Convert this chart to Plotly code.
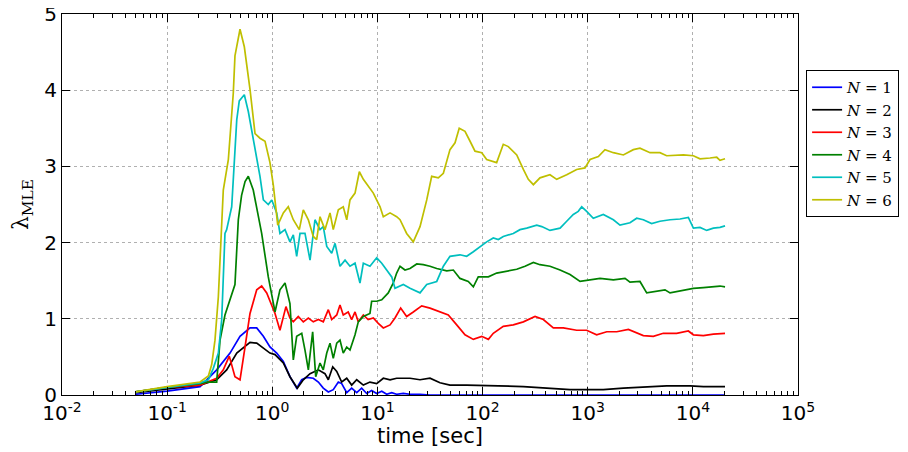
import plotly.graph_objects as go

# ---- data (log10 of time in seconds, lambda_MLE) ----
lt_n1 = [-1.301, -1.001, -0.687, -0.529, -0.402, -0.307, -0.212, -0.148, -0.085, -0.022, 0.042, 0.105,
         0.168, 0.232, 0.280, 0.327, 0.390, 0.438, 0.485, 0.533, 0.580, 0.628, 0.660, 0.708, 0.755,
         0.803, 0.850, 0.898, 0.945, 0.993, 1.041, 1.088, 1.136, 1.183, 1.246, 1.310, 1.405, 1.500,
         2.0, 3.0, 4.306]
y_n1 = [0.01, 0.05, 0.11, 0.33, 0.55, 0.77, 0.88, 0.88, 0.77, 0.63, 0.55, 0.44,
        0.24, 0.09, 0.20, 0.23, 0.22, 0.17, 0.09, 0.04, 0.07, 0.17, 0.15, 0.03, 0.09,
        0.03, 0.09, 0.02, 0.06, 0.02, 0.05, 0.01, 0.03, 0.01, 0.02, 0.01, 0.01, 0.0,
        0.0, 0.0, 0.0]

lt_n2 = [-1.301, -1.001, -0.687, -0.529, -0.434, -0.338, -0.212, -0.148, -0.085, -0.022, 0.026, 0.105,
         0.168, 0.238, 0.295, 0.359, 0.438, 0.501, 0.533, 0.575, 0.613, 0.660, 0.708, 0.755, 0.803,
         0.866, 0.929, 0.993, 1.056, 1.120, 1.183, 1.215, 1.310, 1.405, 1.500, 1.595, 1.690, 1.849,
         2.007, 2.150, 2.388, 2.641, 2.832, 2.990, 3.148, 3.339, 3.593, 3.751, 3.973, 4.100, 4.306]
y_n2 = [0.03, 0.08, 0.13, 0.20, 0.33, 0.55, 0.69, 0.68, 0.61, 0.55, 0.53, 0.42,
        0.24, 0.09, 0.20, 0.28, 0.33, 0.28, 0.20, 0.37, 0.31, 0.17, 0.22, 0.13, 0.20,
        0.13, 0.17, 0.15, 0.22, 0.20, 0.22, 0.22, 0.22, 0.20, 0.22, 0.16, 0.13, 0.13,
        0.12, 0.12, 0.11, 0.09, 0.07, 0.07, 0.07, 0.09, 0.11, 0.12, 0.12, 0.11, 0.11]

lt_n3 = [-1.301, -1.001, -0.687, -0.529, -0.466, -0.409, -0.355, -0.307, -0.259, -0.212, -0.148, -0.101,
         -0.053, -0.005, 0.026, 0.073, 0.130, 0.168, 0.200, 0.247, 0.295, 0.343, 0.390, 0.438, 0.485,
         0.533, 0.565, 0.613, 0.644, 0.675, 0.722, 0.755, 0.787, 0.818, 0.866, 0.912, 0.961, 1.008,
         1.056, 1.120, 1.167, 1.221, 1.278, 1.341, 1.421, 1.500, 1.595, 1.674, 1.754, 1.833, 1.912,
         1.992, 2.055, 2.102, 2.197, 2.292, 2.388, 2.499, 2.578, 2.673, 2.768, 2.895, 2.990, 3.085,
         3.181, 3.276, 3.387, 3.466, 3.529, 3.624, 3.719, 3.846, 3.957, 4.005, 4.100, 4.195, 4.306]
y_n3 = [0.04, 0.10, 0.13, 0.22, 0.33, 0.51, 0.24, 0.20, 0.63, 1.07, 1.38, 1.43,
        1.34, 1.16, 1.07, 0.85, 1.16, 1.01, 0.96, 1.03, 0.96, 1.01, 0.96, 0.99, 0.96,
        1.12, 0.99, 1.05, 1.18, 1.05, 1.09, 0.99, 1.09, 0.96, 1.05, 0.99, 1.01, 0.94,
        0.88, 0.92, 1.01, 1.14, 1.03, 1.09, 1.17, 1.14, 1.09, 1.05, 0.92, 0.79, 0.73,
        0.77, 0.73, 0.81, 0.90, 0.92, 0.96, 1.03, 0.99, 0.88, 0.88, 0.85, 0.85, 0.79,
        0.83, 0.83, 0.86, 0.81, 0.78, 0.77, 0.81, 0.81, 0.84, 0.79, 0.78, 0.80, 0.81]

lt_n4 = [-1.301, -1.001, -0.687, -0.624, -0.529, -0.497, -0.450, -0.355, -0.323, -0.292, -0.259, -0.228,
         -0.181, -0.101, -0.038, 0.026, 0.073, 0.121, 0.168, 0.200, 0.232, 0.280, 0.311, 0.343, 0.384,
         0.413, 0.454, 0.485, 0.518, 0.549, 0.580, 0.613, 0.644, 0.675, 0.708, 0.739, 0.787, 0.818,
         0.866, 0.929, 0.945, 0.993, 1.041, 1.103, 1.151, 1.183, 1.215, 1.262, 1.310, 1.374, 1.436,
         1.500, 1.564, 1.659, 1.722, 1.785, 1.864, 1.912, 1.959, 2.055, 2.134, 2.229, 2.325, 2.404,
         2.483, 2.546, 2.641, 2.737, 2.832, 2.927, 3.022, 3.117, 3.244, 3.355, 3.402, 3.497, 3.561,
         3.656, 3.735, 3.783, 3.878, 4.005, 4.100, 4.195, 4.258, 4.306]
y_n4 = [0.04, 0.10, 0.15, 0.17, 0.17, 0.72, 1.05, 1.45, 2.30, 2.62, 2.80, 2.87,
        2.69, 2.12, 1.55, 1.09, 1.38, 1.47, 1.20, 0.46, 0.77, 0.81, 0.59, 0.33, 0.83,
        0.24, 0.42, 0.33, 0.55, 0.68, 0.48, 0.68, 0.72, 0.55, 0.63, 0.59, 0.79, 0.96,
        1.03, 1.07, 1.23, 1.23, 1.25, 1.34, 1.47, 1.60, 1.69, 1.64, 1.66, 1.72, 1.71,
        1.69, 1.66, 1.63, 1.64, 1.53, 1.49, 1.42, 1.55, 1.55, 1.60, 1.62, 1.65, 1.69,
        1.74, 1.71, 1.69, 1.64, 1.58, 1.49, 1.51, 1.53, 1.51, 1.53, 1.48, 1.49, 1.34,
        1.36, 1.38, 1.34, 1.37, 1.40, 1.41, 1.42, 1.43, 1.42]

lt_n5 = [-1.301, -1.001, -0.687, -0.608, -0.561, -0.513, -0.481, -0.450, -0.434, -0.386, -0.338, -0.314,
         -0.266, -0.228, -0.181, -0.117, -0.085, -0.038, -0.005, 0.042, 0.073, 0.121, 0.168, 0.200,
         0.232, 0.264, 0.311, 0.359, 0.406, 0.454, 0.485, 0.518, 0.565, 0.597, 0.644, 0.692, 0.739,
         0.787, 0.834, 0.866, 0.929, 0.993, 1.041, 1.088, 1.136, 1.167, 1.246, 1.310, 1.405, 1.469,
         1.564, 1.627, 1.690, 1.785, 1.849, 1.912, 1.976, 2.039, 2.102, 2.150, 2.197, 2.292, 2.356,
         2.420, 2.515, 2.563, 2.641, 2.737, 2.800, 2.863, 2.910, 2.943, 2.990, 3.053, 3.148, 3.244,
         3.307, 3.402, 3.466, 3.529, 3.608, 3.687, 3.783, 3.878, 3.957, 4.005, 4.068, 4.132, 4.195,
         4.258, 4.306]
y_n5 = [0.04, 0.10, 0.16, 0.20, 0.35, 0.55, 0.99, 2.12, 2.17, 2.47, 3.61, 3.86,
        3.94, 3.72, 3.37, 2.87, 2.56, 2.50, 2.56, 2.39, 2.12, 2.17, 2.01, 2.10,
        1.82, 2.12, 2.12, 1.77, 2.30, 2.17, 2.21, 1.95, 1.86, 1.99, 1.69, 1.77, 1.69,
        1.73, 1.47, 1.73, 1.69, 1.80, 1.73, 1.64, 1.55, 1.40, 1.45, 1.40, 1.34, 1.45,
        1.49, 1.69, 1.82, 1.84, 1.82, 1.88, 1.95, 2.01, 2.06, 2.04, 2.08, 2.12, 2.17,
        2.19, 2.23, 2.21, 2.16, 2.19, 2.28, 2.37, 2.41, 2.47, 2.41, 2.32, 2.37, 2.30,
        2.23, 2.26, 2.32, 2.30, 2.25, 2.28, 2.30, 2.31, 2.33, 2.19, 2.20, 2.16, 2.19,
        2.20, 2.22]

lt_n6 = [-1.301, -1.001, -0.687, -0.608, -0.576, -0.545, -0.513, -0.481, -0.466, -0.418, -0.371, -0.355,
         -0.307, -0.266, -0.212, -0.164, -0.117, -0.069, -0.022, 0.010, 0.052, 0.105, 0.152, 0.200,
         0.257, 0.295, 0.343, 0.390, 0.422, 0.454, 0.501, 0.549, 0.580, 0.628, 0.675, 0.708, 0.739,
         0.787, 0.828, 0.866, 0.912, 0.961, 1.025, 1.056, 1.120, 1.183, 1.215, 1.278, 1.341, 1.405,
         1.469, 1.516, 1.579, 1.627, 1.690, 1.738, 1.778, 1.833, 1.881, 1.928, 1.992, 2.039, 2.134,
         2.197, 2.245, 2.325, 2.388, 2.435, 2.483, 2.546, 2.641, 2.705, 2.800, 2.895, 2.974, 3.022,
         3.101, 3.164, 3.244, 3.339, 3.434, 3.497, 3.593, 3.687, 3.751, 3.910, 4.005, 4.068, 4.163,
         4.227, 4.258, 4.306]
y_n6 = [0.04, 0.11, 0.17, 0.25, 0.40, 0.72, 1.29, 2.12, 2.69, 3.09, 3.96, 4.45,
        4.80, 4.57, 4.01, 3.43, 3.37, 3.33, 3.05, 2.75, 2.23, 2.39, 2.47, 2.30,
        2.17, 2.43, 2.30, 2.08, 2.04, 2.34, 2.17, 2.39, 2.17, 2.43, 2.47, 2.30, 2.56,
        2.65, 2.93, 2.83, 2.74, 2.65, 2.47, 2.34, 2.39, 2.34, 2.30, 2.12, 2.01, 2.21,
        2.56, 2.87, 2.85, 2.91, 3.22, 3.31, 3.50, 3.46, 3.33, 3.20, 3.18, 3.09, 3.05,
        3.29, 3.26, 3.15, 2.96, 2.83, 2.76, 2.85, 2.89, 2.83, 2.89, 2.96, 2.98, 3.09,
        3.13, 3.22, 3.18, 3.15, 3.22, 3.24, 3.18, 3.18, 3.14, 3.15, 3.14, 3.10, 3.11,
        3.12, 3.08, 3.10]

series_names = ["N=1", "N=2", "N=3", "N=4", "N=5", "N=6"]
series_lt = [lt_n1, lt_n2, lt_n3, lt_n4, lt_n5, lt_n6]
series_y = [y_n1, y_n2, y_n3, y_n4, y_n5, y_n6]
colors = ["#0000ff", "#000000", "#ff0000", "#008000", "#00bfbf", "#bfbf00"]

major_exp = [-2, -1, 0, 1, 2, 3, 4, 5]
y_ticks = [0, 1, 2, 3, 4, 5]

fig = go.Figure()
for name, lt, ys, c in zip(series_names, series_lt, series_y, colors):
    n = name.split("=")[1]
    fig.add_trace(go.Scatter(
        x=[10 ** v for v in lt], y=ys, mode="lines",
        line=dict(color=c, width=1.7),
        name=f"<i>N</i> = {n}",
    ))

minor_vals = [m * 10 ** e for e in major_exp[:-1] for m in range(2, 10)]

fig.update_layout(
    width=900, height=444,
    margin=dict(l=54, r=110, t=6, b=57),
    plot_bgcolor="white", paper_bgcolor="white",
    font=dict(family="DejaVu Sans", size=20, color="black"),
    showlegend=True,
    legend=dict(
        x=1.011, y=0.853, xanchor="left", yanchor="top",
        bgcolor="white", bordercolor="black", borderwidth=1,
        font=dict(family="DejaVu Serif", size=15, color="black"),
        tracegroupgap=0, itemwidth=30,
    ),
    xaxis=dict(
        type="log", range=[-2, 5], automargin=False,
        tickvals=[10 ** e for e in major_exp],
        ticktext=[f"10<sup>{e}</sup>" for e in major_exp],
        ticks="inside", ticklen=8, tickcolor="black", ticklabeloverflow="allow",
        showline=True, linecolor="black", linewidth=1, mirror="allticks",
        showgrid=True, gridcolor="#b0b0b0", griddash="dot", gridwidth=1,
        minor=dict(tickvals=minor_vals, ticks="inside", ticklen=4, tickcolor="black", showgrid=False),
        zeroline=False,
    ),
    yaxis=dict(
        range=[0, 5], tickvals=y_ticks, automargin=False,
        ticks="inside", ticklen=8, tickcolor="black", ticklabeloverflow="allow",
        showline=True, linecolor="black", linewidth=1, mirror="allticks",
        showgrid=True, gridcolor="#b0b0b0", griddash="dot", gridwidth=1,
        title=dict(text="λ<sub>MLE</sub>", font=dict(family="DejaVu Serif", size=22), standoff=14),
        zeroline=False,
    ),
    annotations=[dict(
        text="time [sec]", xref="paper", yref="paper", x=0.5, y=-0.108,
        xanchor="center", yanchor="middle", showarrow=False,
        font=dict(family="DejaVu Sans", size=21, color="black"),
    )],
)

fig.write_html("out.html")
